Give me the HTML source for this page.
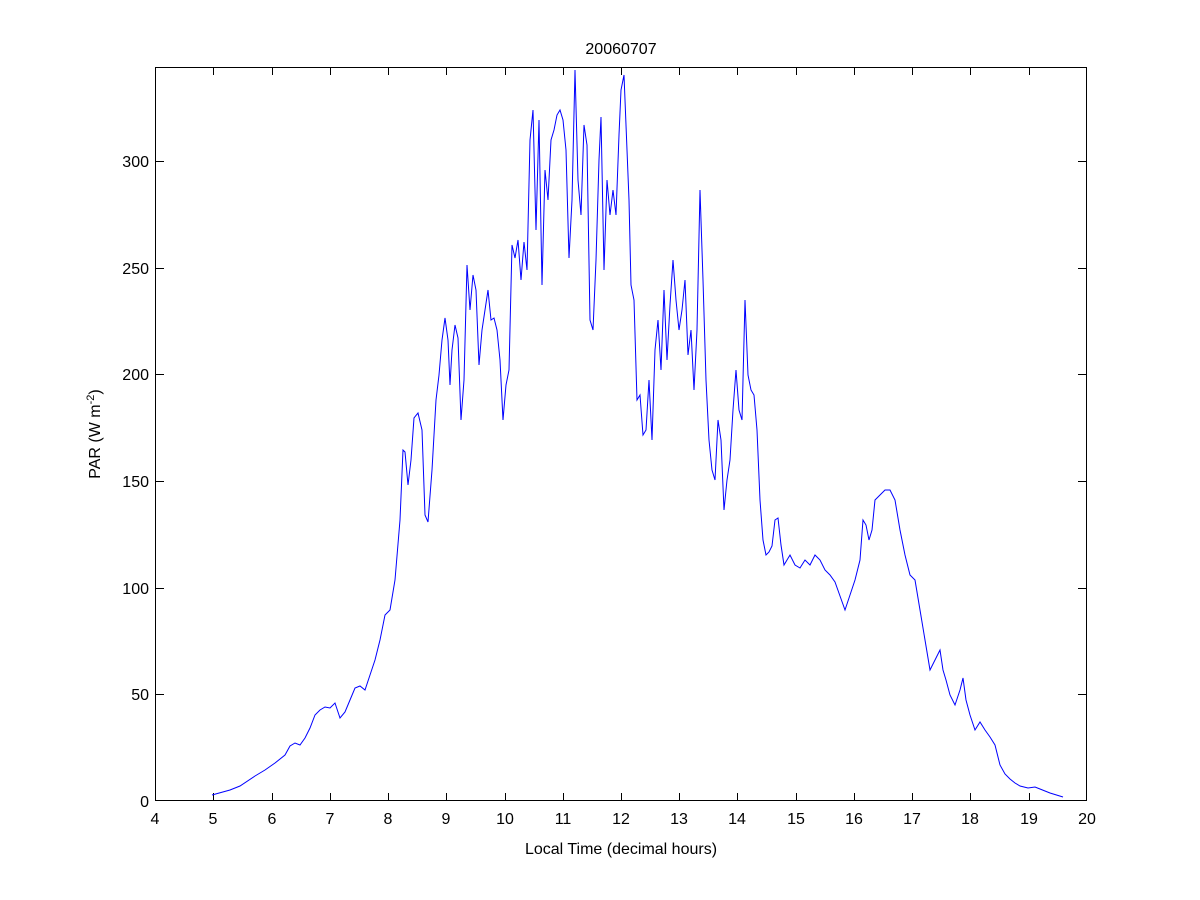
<!DOCTYPE html>
<html><head><meta charset="utf-8"><style>body{margin:0;background:#fff}svg{display:block}</style></head>
<body>
<svg width="1200" height="900" viewBox="0 0 1200 900" xmlns="http://www.w3.org/2000/svg" font-family="Liberation Sans, sans-serif">
<rect width="1200" height="900" fill="#fff"/>
<rect x="155.5" y="67.5" width="931" height="733" fill="#fff" stroke="#000" stroke-width="1"/>
<g stroke="#000" stroke-width="1">
<path d="M155.5 801v-8M213.5 801v-8M272.5 801v-8M330.5 801v-8M388.5 801v-8M446.5 801v-8M505.5 801v-8M563.5 801v-8M621.5 801v-8M679.5 801v-8M737.5 801v-8M796.5 801v-8M854.5 801v-8M912.5 801v-8M970.5 801v-8M1029.5 801v-8M1086.5 801v-8"/>
<path d="M155.5 67v8M213.5 67v8M272.5 67v8M330.5 67v8M388.5 67v8M446.5 67v8M505.5 67v8M563.5 67v8M621.5 67v8M679.5 67v8M737.5 67v8M796.5 67v8M854.5 67v8M912.5 67v8M970.5 67v8M1029.5 67v8"/>
<path d="M155 694.5h9M155 588.5h9M155 481.5h9M155 374.5h9M155 268.5h9M155 161.5h9"/>
<path d="M1087 694.5h-9M1087 588.5h-9M1087 481.5h-9M1087 374.5h-9M1087 268.5h-9M1087 161.5h-9"/>
</g>
<g font-size="16" text-anchor="middle" fill="#000">
<text x="155" y="824">4</text><text x="213" y="824">5</text><text x="272" y="824">6</text><text x="330" y="824">7</text><text x="388" y="824">8</text><text x="446" y="824">9</text><text x="505" y="824">10</text><text x="563" y="824">11</text><text x="621" y="824">12</text><text x="679" y="824">13</text><text x="737" y="824">14</text><text x="796" y="824">15</text><text x="854" y="824">16</text><text x="912" y="824">17</text><text x="970" y="824">18</text><text x="1029" y="824">19</text><text x="1087" y="824">20</text>
</g>
<g font-size="16" text-anchor="end" fill="#000">
<text x="149" y="807">0</text><text x="149" y="700">50</text><text x="149" y="594">100</text><text x="149" y="487">150</text><text x="149" y="380">200</text><text x="149" y="274">250</text><text x="149" y="167">300</text>
</g>
<text x="621" y="54" font-size="16" text-anchor="middle">20060707</text>
<text x="621" y="854" font-size="16" text-anchor="middle">Local Time (decimal hours)</text>
<text transform="translate(100,434) rotate(-90)" font-size="16" text-anchor="middle">PAR (W m<tspan dy="-6" font-size="11">-2</tspan><tspan dy="6">)</tspan></text>
<polyline fill="none" stroke="#0000ff" stroke-width="1" points="212,795 230,790 240,786 255,776 265,770 275,763 285,755 290,746 295,743 300,745 305,738 310,728 315,715 320,710 325,707 330,708 335,703 340,718 345,712 350,700 355,688 360,686 365,690 370,675 375,660 380,640 385,615 390,610 395,580 400,520 403,450 405,452 408,485 411,460 414,418 418,413 422,430 425,515 428,522 432,470 436,400 439,375 442,340 445,318 448,340 450,385 452,350 455,325 458,338 461,420 464,380 467,265 470,310 473,275 476,290 479,365 482,330 485,310 488,290 491,320 494,318 497,330 500,360 503,420 506,385 509,370 512,245 515,258 518,240 521,280 524,242 527,270 530,140 533,110 536,230 539,120 542,285 545,170 548,200 551,140 554,130 557,115 560,110 563,120 566,150 569,258 572,200 575,70 578,180 581,215 584,125 587,145 590,320 593,330 596,260 599,160 601,117 604,270 607,180 610,215 613,190 616,215 619,135 621,90 624,75 627,150 629,200 631,285 634,300 637,400 640,395 643,435 646,430 649,380 652,440 655,350 658,320 661,370 664,290 667,360 670,305 673,260 676,300 679,330 682,310 685,280 688,355 691,330 694,390 697,330 700,190 703,280 706,380 709,440 712,470 715,480 718,420 721,440 724,510 727,480 730,460 733,410 736,370 739,410 742,420 745,300 748,375 751,390 754,395 757,430 760,500 763,540 766,555 769,552 772,546 775,520 778,518 781,545 784,565 787,560 790,555 795,565 800,568 805,560 810,565 815,555 820,560 825,570 830,575 835,582 840,596 845,610 850,595 855,580 860,560 863,520 866,525 869,540 872,530 875,500 880,495 885,490 890,490 895,500 900,530 905,555 910,575 915,580 920,610 925,640 930,670 935,660 940,650 943,670 946,680 950,695 955,705 960,690 963,678 966,700 970,715 975,730 980,722 985,730 990,737 995,745 1000,765 1005,774 1010,779 1015,783 1020,786 1028,788 1035,787 1040,789 1050,793 1063,797"/>
</svg>
</body></html>
